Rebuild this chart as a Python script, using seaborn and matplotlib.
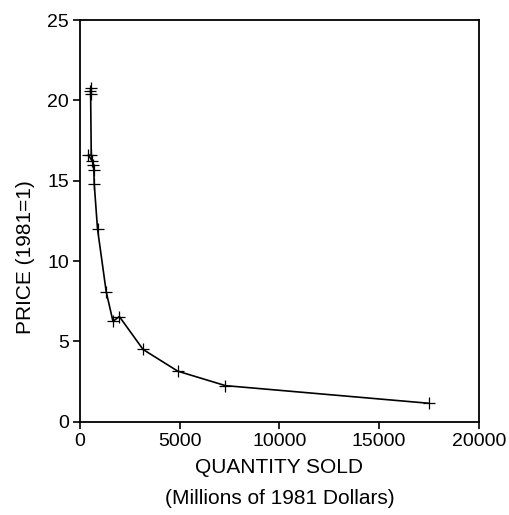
import pandas as pd
import seaborn as sns
import matplotlib.pyplot as plt

# quantity sold (millions of 1981 dollars) and price index (1981=1)
quantity = [540, 520, 530, 560, 420, 560, 620, 660, 690, 710, 875, 1310, 1650, 1970, 3160, 4900, 7290, 17510]
price = [20.8, 20.6, 20.4, 16.8, 16.6, 16.4, 16.2, 16.0, 15.7, 14.8, 12.0, 8.1, 6.25, 6.55, 4.5, 3.15, 2.25, 1.15]

df = pd.DataFrame({'quantity': quantity, 'price': price})

sns.set_style("ticks")
plt.rcParams['font.family'] = ['Liberation Sans', 'DejaVu Sans']

fig = plt.figure(figsize=(5.1, 5.15), dpi=100)
ax = fig.add_axes([0.157, 0.181, 0.782, 0.780])

sns.lineplot(data=df, x='quantity', y='price', sort=False, ax=ax,
             color='black', linewidth=1.2, marker='+', markersize=8,
             markeredgewidth=0.9, markeredgecolor='black')

ax.set_xlim(0, 20000)
ax.set_ylim(0, 25)
ax.set_xticks([0, 5000, 10000, 15000, 20000])
ax.set_yticks([0, 5, 10, 15, 20, 25])
ax.tick_params(direction='out', length=5, width=1.2, labelsize=14, color='black', labelcolor='black', pad=3)
for s in ax.spines.values():
    s.set_linewidth(1.3)
    s.set_color('black')

ax.set_ylabel('PRICE (1981=1)', fontsize=15, color='black')
ax.yaxis.set_label_coords(-0.112, 0.41)
ax.set_xlabel('QUANTITY SOLD', fontsize=15, labelpad=6, color='black')
fig.text(0.548, 0.033, '(Millions of 1981 Dollars)', fontsize=15, ha='center', va='center', color='black')

fig.savefig('out.png', dpi=100, facecolor='white')
